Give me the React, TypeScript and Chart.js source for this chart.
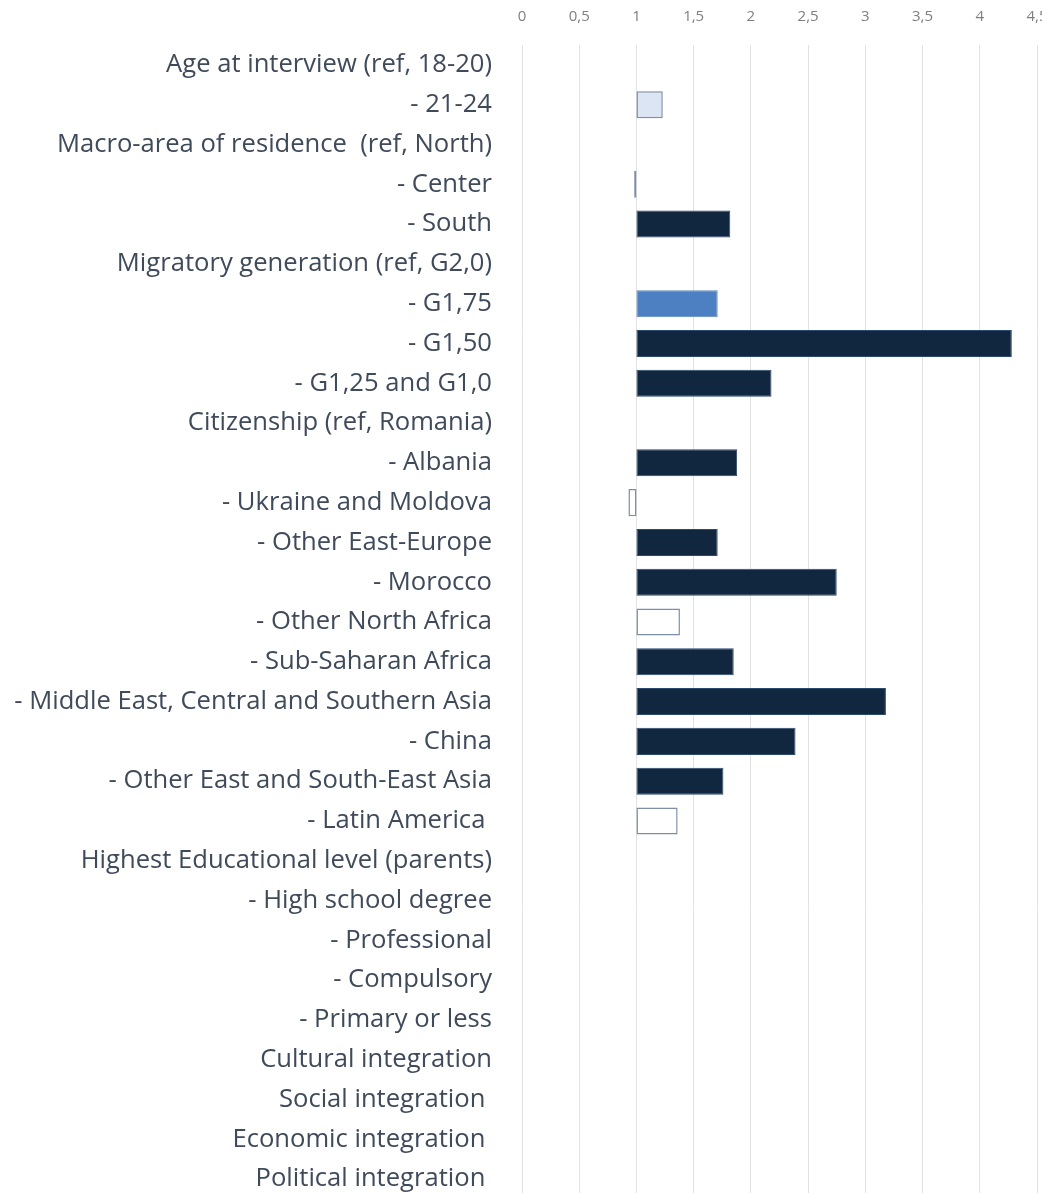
import React, { useEffect, useRef } from "react";
import { Chart, registerables } from "chart.js";

Chart.register(...registerables);

const categories = [
  "Age at interview (ref, 18-20)",
  "- 21-24",
  "Macro-area of residence  (ref, North)",
  "- Center",
  "- South",
  "Migratory generation (ref, G2,0)",
  "- G1,75",
  "- G1,50",
  "- G1,25 and G1,0",
  "Citizenship (ref, Romania)",
  "- Albania",
  "- Ukraine and Moldova",
  "- Other East-Europe",
  "- Morocco",
  "- Other North Africa",
  "- Sub-Saharan Africa",
  "- Middle East, Central and Southern Asia",
  "- China",
  "- Other East and South-East Asia",
  "- Latin America ",
  "Highest Educational level (parents)",
  "- High school degree",
  "- Professional",
  "- Compulsory",
  "- Primary or less",
  "Cultural integration",
  "Social integration ",
  "Economic integration ",
  "Political integration ",
];

const referenceValue = 1;

const oddsRatios: (number | null)[] = [
  null, 1.23, null, 0.98, 1.82, null, 1.71, 4.28, 2.18, null, 1.88, 0.93, 1.71,
  2.75, 1.38, 1.85, 3.18, 2.39, 1.76, 1.36, null, null, null, null, null, null,
  null, null, null,
];

// 3 = strongest significance, 0 = not significant
const significance: (number | null)[] = [
  null, 1, null, 0, 3, null, 2, 3, 3, null, 3, 0, 3, 3, 0, 3, 3, 3, 3, 0, null,
  null, null, null, null, null, null, null, null,
];

const tickValues = [0, 0.5, 1, 1.5, 2, 2.5, 3, 3.5, 4, 4.5];
const tickLabels = ["0", "0,5", "1", "1,5", "2", "2,5", "3", "3,5", "4", "4,5"];

const fillBySig = ["#ffffff", "#dce5f4", "#4d80c3", "#11263f"];
const borderBySig = ["#7d8fa6", "#7d8fa6", "#5f86b8", "#2c4a6e"];

export default function App() {
  const ref = useRef<HTMLCanvasElement | null>(null);
  useEffect(() => {
    if (!ref.current) return;
    const chart = new Chart(ref.current, {
      type: "bar",
      data: {
        labels: categories,
        datasets: [
          {
            data: oddsRatios.map((v) => (v == null ? null : [referenceValue, v])) as any,
            backgroundColor: significance.map((s) => fillBySig[s ?? 0]),
            borderColor: significance.map((s) => borderBySig[s ?? 0]),
            borderWidth: significance.map((s) => (s === 0 || s === 1 ? 1.5 : 1)),
            borderSkipped: false,
            categoryPercentage: 1,
            barPercentage: 0.68,
          },
        ],
      },
      options: {
        indexAxis: "y",
        animation: false,
        responsive: false,
        maintainAspectRatio: false,
        layout: { padding: { left: 0, right: 23, top: 0, bottom: 1 } },
        plugins: { legend: { display: false }, tooltip: { enabled: false } },
        scales: {
          x: {
            position: "top",
            min: 0,
            max: 4.5,
            afterFit: (scale: any) => {
              scale.height = 45;
              scale.paddingLeft = 0;
              scale.paddingRight = 0;
            },
            afterBuildTicks: (scale: any) => {
              scale.ticks = tickValues.map((v) => ({ value: v }));
            },
            ticks: {
              callback: (v: any) => {
                const i = tickValues.indexOf(Number(v));
                return i >= 0 ? tickLabels[i] : "";
              },
              color: "#7f7f7f",
              font: { family: "Open Sans", size: 15 },
              padding: 19,
              maxRotation: 0,
              autoSkip: false,
            },
            grid: { color: "#e2e2e2", lineWidth: 1, drawTicks: false },
            border: { display: false },
          },
          y: {
            afterFit: (scale: any) => {
              scale.width = 522;
              scale.paddingTop = 0;
              scale.paddingBottom = 0;
            },
            ticks: {
              color: "#3f4a5a",
              font: { family: "Open Sans", size: 25.6 },
              padding: 30,
              autoSkip: false,
            },
            grid: { display: false, drawTicks: false },
            border: { display: false },
          },
        },
      },
    });
    return () => chart.destroy();
  }, []);
  return (
    <div
      style={{
        position: "absolute",
        left: 0,
        top: 0,
        width: 1042,
        height: 1193,
        overflow: "hidden",
        background: "#ffffff",
      }}
    >
      <canvas ref={ref} width={1060} height={1200} style={{ display: "block" }} />
    </div>
  );
}
